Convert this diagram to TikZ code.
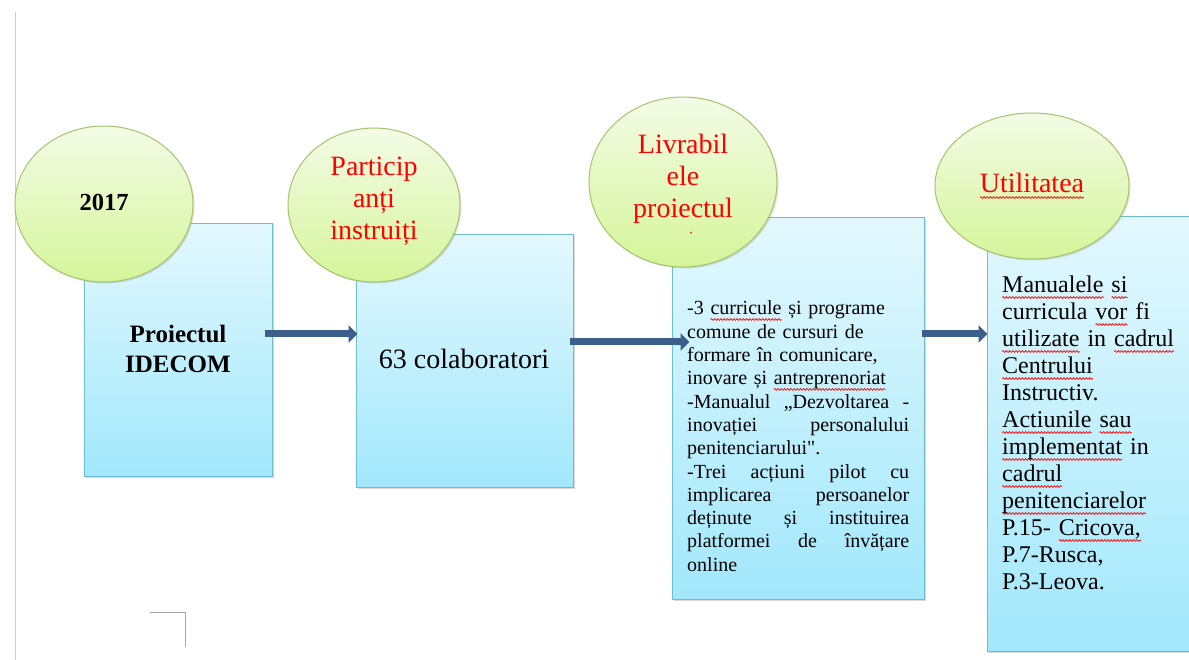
\documentclass[tikz,border=0pt]{standalone}
\usepackage{fontspec}
\setmainfont{Liberation Serif}[Ligatures=TeXOff]
\usetikzlibrary{shapes.geometric,arrows.meta,shadows,calc,decorations.pathmorphing}
\definecolor{boxtop}{HTML}{E3F8FE}
\definecolor{boxbot}{HTML}{A2E8FC}
\definecolor{boxborder}{HTML}{6BBCD8}
\definecolor{elltop}{HTML}{F3FBE6}
\definecolor{ellbot}{HTML}{D5F59A}
\definecolor{ellborder}{HTML}{A3C66A}
\definecolor{arrowblue}{HTML}{3C5E8B}
\definecolor{wordred}{HTML}{FF0000}
\newsavebox\wavebox
\newlength\wavelen
\newcommand\redwave[1]{\sbox\wavebox{#1}\setlength\wavelen{\wd\wavebox}\leavevmode\rlap{\tikz[overlay,x=1pt,y=1pt,baseline=0pt]\draw[wordred,line width=0.7pt,decorate,decoration={snake,amplitude=0.9pt,segment length=3.2pt}] (0,-4.5) -- (\wavelen,-4.5);}\usebox\wavebox}
\newcommand\jline[1]{\leavevmode\hbox to 222pt{\spaceskip=0pt plus 100pt\relax #1}}
\tikzset{
  boxst/.style={rectangle, draw=boxborder, line width=1pt, top color=boxtop, bottom color=boxbot,
    drop shadow={shadow xshift=1.5pt, shadow yshift=-1.5pt, opacity=.3}, inner sep=0pt},
  ellst/.style={ellipse, draw=ellborder, line width=1pt, top color=elltop, bottom color=ellbot,
    drop shadow={shadow xshift=1.5pt, shadow yshift=-1.5pt, opacity=.25}, inner sep=0pt},
  arr/.style={line width=7pt, draw=arrowblue, -{Triangle[length=9pt,width=17pt]}},
  redtxt/.style={text=wordred, inner sep=0pt, align=center, anchor=base,
    font=\fontsize{28}{32}\selectfont},
  blktxt/.style={text=black, inner sep=0pt},
}
\begin{document}
\begin{tikzpicture}[x=1pt,y=-1pt]
\clip (0,0) rectangle (1189,660);
\fill[white] (0,0) rectangle (1189,660);
% page decorations
\draw[black!20, line width=1pt] (15,12) -- (15,660);
\draw[black!35, line width=1pt] (150,612) -- (185,612) -- (185,647);

% boxes
\node[boxst, minimum width=188pt, minimum height=252pt] (b1) at (178,350) {};
\node[boxst, minimum width=217pt, minimum height=252pt] (b2) at (464.5,361) {};
\node[boxst, minimum width=252pt, minimum height=381pt] (b3) at (798,408.5) {};
\node[boxst, minimum width=213pt, minimum height=434pt] (b4) at (1093.5,434) {};

% ellipses
\node[ellst, minimum width=178pt, minimum height=156pt] (e1) at (104,204) {};
\node[ellst, minimum width=172pt, minimum height=154pt] (e2) at (374,205) {};
\node[ellst, minimum width=188pt, minimum height=170pt] (e3) at (683,182) {};
\node[ellst, minimum width=194pt, minimum height=146pt] (e4) at (1032,186) {};

% ellipse texts
\node[blktxt, anchor=base, font=\bfseries\fontsize{24.5}{28}\selectfont] (t1) at (104,211) {2017};
\node[redtxt, text width=170pt] (t2) at (374,176) {Particip\\anți\\instruiți};
\node[redtxt, text width=180pt] (t3) at (683,154) {Livrabil\\ele\\proiectul};
\fill[wordred] (691,232.5) circle (0.9);
\node[redtxt, text width=190pt] (t4) at (1032,193) {\redwave{Utilitatea}};

% box texts
\node[blktxt, anchor=base, align=center, text width=180pt, font=\bfseries\fontsize{25}{30}\selectfont] (p1) at (178,343) {Proiectul\\IDECOM};
\node[blktxt, anchor=base, font=\fontsize{28}{32}\selectfont] (p2) at (464,368) {63 colaboratori};
\node[blktxt, anchor=base west, align=left, text width=222pt, font=\fontsize{20}{23.3}\selectfont] (p3) at (687,315) {%
-3 \redwave{curricule} și programe\\
comune de cursuri de\\
formare în comunicare,\\
inovare și \redwave{antreprenoriat}\\
\jline{-Manualul „Dezvoltarea -}\\
\jline{inovației personalului}\\
penitenciarului".\\
\jline{-Trei acțiuni pilot cu}\\
\jline{implicarea persoanelor}\\
\jline{deținute și instituirea}\\
\jline{platformei de învățare}\\
online};
\node[blktxt, anchor=base west, align=left, text width=185pt, font=\fontsize{24}{27}\selectfont] (p4) at (1002,293) {%
\redwave{Manualele} \redwave{si}\\
curricula \redwave{vor} fi\\
\redwave{utilizate} in \redwave{cadrul}\\
\redwave{Centrului}\\
Instructiv.\\
\redwave{Actiunile} \redwave{sau}\\
\redwave{implementat} in\\
\redwave{cadrul}\\
\redwave{penitenciarelor}\\
P.15- \redwave{Cricova,}\\
P.7-Rusca,\\
P.3-Leova.};

% arrows
\coordinate (a1s) at (265,334);
\coordinate (a2s) at (570,342);
\coordinate (a3s) at (922,334);
\draw[arr] (a1s) -- ($(a1s -| b2.west)+(2,0)$);
\draw[arr] (a2s) -- ($(a2s -| b3.west)+(18,0)$);
\draw[arr] (a3s) -- ($(a3s -| b4.west)+(1,0)$);
\end{tikzpicture}
\end{document}
